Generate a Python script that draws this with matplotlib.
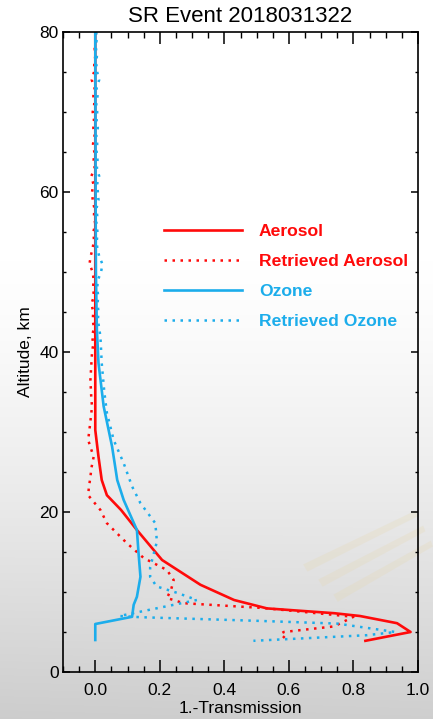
import numpy as np
import matplotlib.pyplot as plt
from matplotlib.ticker import MultipleLocator
from matplotlib.patches import Polygon

plt.rcParams["font.family"] = ["Liberation Sans", "DejaVu Sans"]

RED = "#FF0A0A"
BLUE = "#1CADEB"

# Modelled profiles (1 - transmission vs altitude)
aer_alt = [80, 40, 30.25, 26.9, 24, 22.1, 20.25, 17.75, 14.0, 10.9, 9.0, 7.95, 7.35, 7.0, 6.1, 5.0, 3.9]
aer_val = [0.0, 0.0, 0.0, 0.01, 0.02, 0.036, 0.08, 0.129, 0.207, 0.326, 0.43, 0.532, 0.74, 0.82, 0.935, 0.977, 0.837]

oz_alt = [80, 60, 50, 45, 42.75, 38.6, 33.2, 28.2, 24, 21.5, 17.75, 14.9, 11.9, 9.4, 8.4, 6.9, 6.0, 4.0]
oz_val = [0.0, 0.001, 0.002, 0.004, 0.005, 0.01, 0.026, 0.052, 0.068, 0.088, 0.129, 0.134, 0.14, 0.129, 0.119, 0.114, 0.0, 0.0]

# Retrieved profiles
ret_aer_alt = [80, 79, 78, 77, 76, 75, 74, 73, 72, 71, 70, 69, 68, 67, 66, 65, 64, 63, 62, 61,
               60, 59, 58, 57, 56, 55, 54, 53, 52, 51, 50, 49, 48, 47, 46, 45, 44, 43, 42, 41,
               40, 38.6, 36.5, 34, 33.2, 31, 29, 28, 26.9, 25.5, 24.4, 23, 22.1, 20.25, 18.6,
               16.1, 14.25, 12.75, 11.5, 10.3, 9.25, 8.6, 8.0, 6.9, 5.7, 5.0, 4.75, 4.0]
ret_aer_val = [0.002, 0.001, -0.002, 0.0, -0.003, -0.004, -0.011, -0.002, -0.006, -0.003,
               -0.008, -0.004, -0.006, -0.002, -0.007, -0.003, -0.005, -0.002, -0.012, -0.006,
               -0.010, -0.008, -0.003, -0.004, 0.0, -0.006, -0.004, -0.008, -0.014, -0.018,
               -0.008, -0.005, -0.007, -0.004, -0.012, -0.006, -0.008, -0.004, -0.010, -0.006,
               -0.010, -0.012, -0.015, -0.012, -0.010, -0.016, -0.022, -0.014, -0.005, -0.012,
               -0.015, -0.020, -0.022, 0.016, 0.036, 0.098, 0.150, 0.222, 0.243, 0.235,
               0.222, 0.274, 0.520, 0.800, 0.740, 0.584, 0.574, 0.594]

ret_oz_alt = [80, 79, 78, 77, 76, 75, 74, 73, 72, 71, 70, 69, 68, 67, 66, 65, 64, 63, 62, 61,
              60, 59, 58, 57, 56, 55, 54, 53, 52, 51, 50, 49, 48, 47, 46, 45, 44, 43, 41.9,
              38.6, 35, 32.4, 29, 26.1, 23.2, 21.1, 18.6, 16.3, 14.6, 13.1, 11.9, 10.7, 9.9,
              9.0, 7.0, 6.85, 6.4, 6.05, 5.0, 4.6, 3.9]
ret_oz_val = [0.003, 0.004, 0.002, 0.005, 0.003, 0.006, 0.012, 0.004, 0.007, 0.003, 0.006,
              0.004, 0.008, 0.003, 0.006, 0.004, 0.007, 0.005, 0.012, 0.006, 0.008, 0.010,
              0.004, 0.006, 0.003, 0.007, 0.005, 0.006, 0.012, 0.022, 0.018, 0.008, 0.006,
              0.009, 0.007, 0.010, 0.008, 0.012, 0.016, 0.020, 0.028, 0.036, 0.057, 0.088,
              0.114, 0.140, 0.186, 0.191, 0.180, 0.170, 0.170, 0.190, 0.253, 0.315, 0.075,
              0.140, 0.500, 0.750, 0.930, 0.842, 0.490]

fig = plt.figure(figsize=(4.33, 7.19), dpi=100)

# Soft grey backdrop, darker toward the bottom, with faint panel streaks
bg = fig.add_axes([0, 0, 1, 1], zorder=-2)
h, w = 719, 433
yy, xx = np.mgrid[0:h, 0:w]
shade = np.clip((yy - 260) / 459.0, 0, 1) ** 1.3
shade = shade + 0.04 * np.clip((yy - 500) / 219.0, 0, 1) * (1 - xx / w)
grey = 1 - 0.19 * shade
bg.imshow(np.dstack([grey, grey, grey]), extent=[0, 1, 0, 1], aspect="auto")
for off in [0.0, 0.035, 0.07]:
    bg.add_patch(Polygon([[0.70 + off, 0.215 - off * 0.6], [0.96 + off * 0.5, 0.29 - off * 0.6],
                          [0.965 + off * 0.5, 0.282 - off * 0.6], [0.71 + off, 0.205 - off * 0.6]],
                         closed=True, facecolor="#E6D6A6", alpha=0.22, edgecolor="none"))
bg.set_xlim(0, 1)
bg.set_ylim(0, 1)
bg.axis("off")

ax = fig.add_axes([63 / 433, 47 / 719, 355 / 433, 640 / 719])
ax.set_facecolor("none")

ax.plot(aer_val, aer_alt, color=RED, lw=1.9, label="Aerosol")
ax.plot(ret_aer_val, ret_aer_alt, color=RED, lw=1.8, linestyle=(0, (1, 2.2)),
        label="Retrieved Aerosol")
ax.plot(oz_val, oz_alt, color=BLUE, lw=1.9, label="Ozone")
ax.plot(ret_oz_val, ret_oz_alt, color=BLUE, lw=1.8, linestyle=(0, (1, 2.2)),
        label="Retrieved Ozone")

ax.set_xlim(-0.1, 1.0)
ax.set_ylim(0, 80)
ax.xaxis.set_major_locator(MultipleLocator(0.2))
ax.xaxis.set_minor_locator(MultipleLocator(0.05))
ax.yaxis.set_major_locator(MultipleLocator(20))
ax.yaxis.set_minor_locator(MultipleLocator(5))
ax.tick_params(axis="x", which="major", direction="in", length=8.5, width=1.1,
               top=True, pad=8, labelsize=12.5)
ax.tick_params(axis="x", which="minor", direction="in", length=4, width=1, top=True)
ax.tick_params(axis="y", which="major", direction="in", length=5, width=1.1,
               right=True, pad=3, labelsize=12.5)
ax.tick_params(axis="y", which="minor", direction="in", length=2.5, width=1, right=True)
ax.set_xticks([0.0, 0.2, 0.4, 0.6, 0.8, 1.0])
ax.set_xticklabels(["0.0", "0.2", "0.4", "0.6", "0.8", "1.0"])
for s in ax.spines.values():
    s.set_linewidth(1.2)

ax.set_xlabel("1.-Transmission", fontsize=12.5, labelpad=2)
ax.set_ylabel("Altitude, km", fontsize=12.5, labelpad=5)
ax.set_title("SR Event 2018031322", fontsize=16, pad=7)

leg = ax.legend(loc="upper left", bbox_to_anchor=(0.285, 0.700), frameon=False,
                handlelength=4.45, handletextpad=0.97, labelspacing=0.84,
                borderaxespad=0, borderpad=0,
                prop={"weight": "bold", "size": 12.6})
for text, line in zip(leg.get_texts(), leg.get_lines()):
    text.set_color(line.get_color())

fig.savefig("out.png", dpi=100)
